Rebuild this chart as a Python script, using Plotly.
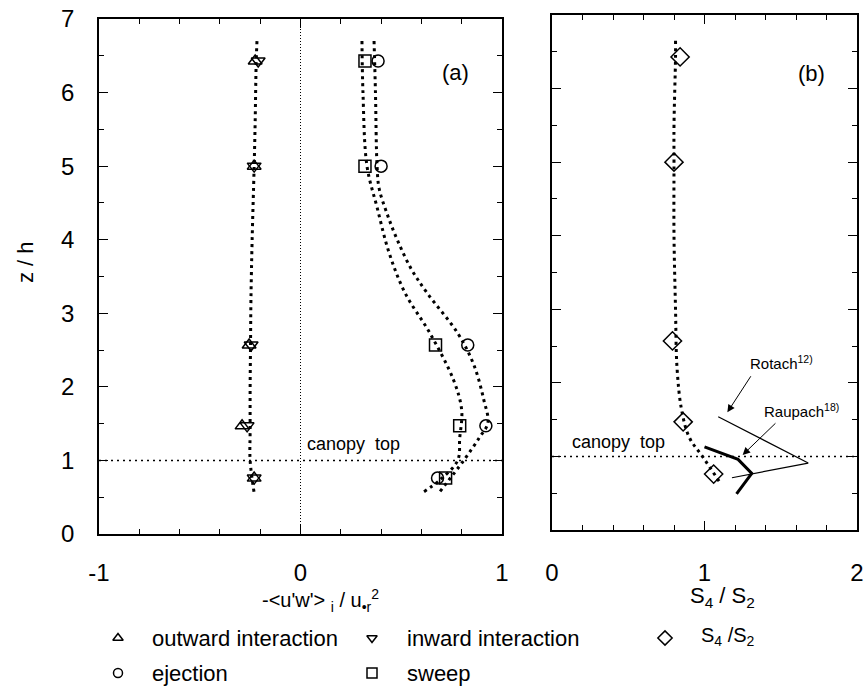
import plotly.graph_objects as go

# ---------------- data ----------------
Z_PTS = [6.43, 5.0, 2.57, 1.47, 0.76]
outward = [-0.225, -0.23, -0.255, -0.29, -0.23]
inward = [-0.21, -0.23, -0.245, -0.265, -0.23]
ejection = [0.385, 0.40, 0.83, 0.92, 0.68]
sweep = [0.32, 0.32, 0.67, 0.79, 0.72]
s4s2 = [0.84, 0.80, 0.79, 0.86, 1.06]

# fitted dotted curves
oi_curve_x = [-0.216, -0.22, -0.225, -0.23, -0.24, -0.246, -0.248, -0.25, -0.25, -0.25, -0.23]
oi_curve_z = [6.7, 6.4, 5.6, 5.0, 4.0, 3.18, 2.57, 2.0, 1.41, 1.0, 0.56]
ej_curve_x = [0.365, 0.372, 0.38, 0.39, 0.43, 0.48, 0.55, 0.63, 0.78, 0.86, 0.91, 0.93, 0.89, 0.81, 0.69]
ej_curve_z = [6.7, 6.0, 5.0, 4.7, 4.35, 4.0, 3.6, 3.27, 2.73, 2.3, 1.82, 1.51, 1.32, 1.0, 0.57]
sw_curve_x = [0.305, 0.31, 0.33, 0.38, 0.44, 0.52, 0.64, 0.76, 0.80, 0.79, 0.78, 0.69, 0.61]
sw_curve_z = [6.7, 6.0, 5.0, 4.44, 3.82, 3.27, 2.74, 2.09, 1.68, 1.3, 1.0, 0.73, 0.57]
s4_curve_x = [0.81, 0.81, 0.80, 0.80, 0.80, 0.81, 0.82, 0.85, 0.90, 0.99, 1.10]
s4_curve_z = [6.65, 6.43, 5.5, 5.0, 4.0, 3.0, 2.2, 1.63, 1.26, 0.99, 0.65]

rotach_x = [1.09, 1.68, 1.18]
rotach_z = [1.54, 0.91, 0.71]
raupach_x = [1.00, 1.22, 1.31, 1.21]
raupach_z = [1.13, 0.96, 0.77, 0.49]

CANOPY = 1.0
YTICKS = [0, 1, 2, 3, 4, 5, 6, 7]

FONT = "Liberation Sans, Arial, Helvetica, sans-serif"
W, H = 867, 686


def px(x):
    return x / W


def py(y):
    return 1 - y / H


fig = go.Figure()

DOT = dict(color="black", width=3, dash="3px,4px")
MK = dict(color="black", size=12, line=dict(color="black", width=1.5))

# ---- panel (a) ----
fig.add_trace(go.Scatter(x=[0, 0], y=[0, 7], mode="lines",
                         line=dict(color="black", width=1, dash="1px,2px"),
                         xaxis="x", yaxis="y", showlegend=False))
fig.add_trace(go.Scatter(x=[-1, 1], y=[CANOPY, CANOPY], mode="lines",
                         line=dict(color="black", width=1.5, dash="2px,4px"),
                         xaxis="x", yaxis="y", showlegend=False))
for cx, cz in [(oi_curve_x, oi_curve_z), (ej_curve_x, ej_curve_z), (sw_curve_x, sw_curve_z)]:
    fig.add_trace(go.Scatter(x=cx, y=cz, mode="lines", line=dict(DOT, shape="spline"),
                             xaxis="x", yaxis="y", showlegend=False))
for vals, sym in [(outward, "triangle-up-open"), (inward, "triangle-down-open"),
                  (ejection, "circle-open"), (sweep, "square-open")]:
    fig.add_trace(go.Scatter(x=vals, y=Z_PTS, mode="markers",
                             marker=dict(MK, symbol=sym),
                             xaxis="x", yaxis="y", showlegend=False, cliponaxis=False))

# ---- panel (b) ----
fig.add_trace(go.Scatter(x=[0, 2], y=[CANOPY, CANOPY], mode="lines",
                         line=dict(color="black", width=1.5, dash="2px,4px"),
                         xaxis="x2", yaxis="y2", showlegend=False))
fig.add_trace(go.Scatter(x=s4_curve_x, y=s4_curve_z, mode="lines", line=dict(DOT, shape="spline"),
                         xaxis="x2", yaxis="y2", showlegend=False))
fig.add_trace(go.Scatter(x=rotach_x, y=rotach_z, mode="lines",
                         line=dict(color="black", width=1.2),
                         xaxis="x2", yaxis="y2", showlegend=False))
fig.add_trace(go.Scatter(x=raupach_x, y=raupach_z, mode="lines",
                         line=dict(color="black", width=3),
                         xaxis="x2", yaxis="y2", showlegend=False))
fig.add_trace(go.Scatter(x=s4s2, y=Z_PTS, mode="markers",
                         marker=dict(MK, symbol="diamond-open", size=14),
                         xaxis="x2", yaxis="y2", showlegend=False, cliponaxis=False))

# ---- legend (manual, on a hidden pixel axis) ----
leg_sym = ["triangle-up-open", "triangle-down-open", "diamond-open", "circle-open", "square-open"]
leg_txt = ["outward interaction", "inward interaction", "S<sub>4</sub> /S<sub>2</sub>",
           "ejection", "sweep"]
leg_px = [118, 372, 665, 118, 372]
leg_py = [638, 638, 638, 673, 673]
leg_size = [9, 9, 11, 9, 10]
for s, xx, yy, sz in zip(leg_sym, leg_px, leg_py, leg_size):
    fig.add_trace(go.Scatter(x=[xx], y=[yy], mode="markers",
                             marker=dict(symbol=s, size=sz, color="black",
                                         line=dict(color="black", width=1.5)),
                             xaxis="x3", yaxis="y3", showlegend=False, cliponaxis=False))

ann = []
leg_tx = [150, 405, 699, 150, 405]
leg_ty = [638, 638, 636, 673, 673]
for t, xx, yy in zip(leg_txt, leg_tx, leg_ty):
    ann.append(dict(x=px(xx), y=py(yy), xref="paper", yref="paper", text=t,
                    showarrow=False, xanchor="left", yanchor="middle",
                    font=dict(size=22 if "S<sub>" not in t else 20, family=FONT, color="black")))

# axis titles
ann.append(dict(x=px(320), y=py(600), xref="paper", yref="paper",
                text="-&lt;u'w'&gt; <sub>i</sub> / u<sub>•r</sub><sup>2</sup>",
                showarrow=False, xanchor="center", yanchor="middle",
                font=dict(size=20, family=FONT, color="black")))
ann.append(dict(x=px(722), y=py(597), xref="paper", yref="paper",
                text="S<sub>4</sub> / S<sub>2</sub>",
                showarrow=False, xanchor="center", yanchor="middle",
                font=dict(size=22, family=FONT, color="black")))
ann.append(dict(x=px(25), y=py(262), xref="paper", yref="paper", text="z / h",
                textangle=-90, showarrow=False, xanchor="center", yanchor="middle",
                font=dict(size=22, family=FONT, color="black")))

# panel labels
ann.append(dict(x=0.77, y=6.27, xref="x", yref="y", text="(a)", showarrow=False,
                font=dict(size=22, family=FONT, color="black")))
ann.append(dict(x=1.70, y=6.2, xref="x2", yref="y2", text="(b)", showarrow=False,
                font=dict(size=22, family=FONT, color="black")))
ann.append(dict(x=0.02, y=1.22, xref="x", yref="y", text="canopy\u00a0 top", showarrow=False,
                xanchor="left", yanchor="middle", font=dict(size=18, family=FONT, color="black")))
ann.append(dict(x=0.12, y=1.2, xref="x2", yref="y2", text="canopy\u00a0 top", showarrow=False,
                xanchor="left", yanchor="middle", font=dict(size=18, family=FONT, color="black")))
ann.append(dict(x=1.285, y=2.27, xref="x2", yref="y2", text="Rotach<sup>12)</sup>", showarrow=False,
                xanchor="left", yanchor="middle", font=dict(size=15, family=FONT, color="black")))
ann.append(dict(x=1.377, y=1.63, xref="x2", yref="y2", text="Raupach<sup>18)</sup>", showarrow=False,
                xanchor="left", yanchor="middle", font=dict(size=15, family=FONT, color="black")))
# arrows
ann.append(dict(x=1.15, y=1.60, ax=1.31, ay=2.11, xref="x2", yref="y2", axref="x2", ayref="y2",
                text="", showarrow=True, arrowhead=2, arrowsize=1.5, arrowwidth=1, arrowcolor="black"))
ann.append(dict(x=1.25, y=1.02, ax=1.475, ay=1.47, xref="x2", yref="y2", axref="x2", ayref="y2",
                text="", showarrow=True, arrowhead=2, arrowsize=1.5, arrowwidth=1, arrowcolor="black"))

common = dict(showline=True, linecolor="black", linewidth=1.5, mirror="ticks",
              ticks="inside", ticklen=9, tickwidth=1.3, tickcolor="black",
              showgrid=False, zeroline=False, automargin=False,
              tickfont=dict(size=24, family=FONT, color="black"))

fig.update_layout(
    width=W, height=H,
    margin=dict(l=0, r=0, t=0, b=0, autoexpand=False),
    paper_bgcolor="white", plot_bgcolor="rgba(0,0,0,0)",
    showlegend=False,
    xaxis=dict(common, domain=[px(99), px(502)], range=[-1, 1], tickvals=[-1, 0, 1],
               ticktext=["-1", "0", "1"], ticklabelstandoff=16,
               minor=dict(ticks="inside", ticklen=5, dtick=0.2, tick0=0, tickcolor="black", showgrid=False),
               anchor="y"),
    yaxis=dict(common, domain=[py(534), py(19)], range=[0, 7], tickvals=YTICKS,
               ticklabelstandoff=18,
               minor=dict(ticks="inside", ticklen=5, dtick=0.5, tick0=0, tickcolor="black", showgrid=False),
               anchor="x"),
    xaxis2=dict(common, domain=[px(552), px(857)], range=[0, 2], tickvals=[0, 1, 2],
                ticklabelstandoff=20,
                minor=dict(ticks="inside", ticklen=5, dtick=0.2, tick0=0, tickcolor="black", showgrid=False),
                anchor="y2"),
    yaxis2=dict(common, domain=[py(530), py(15)], range=[0, 7], tickvals=YTICKS,
                showticklabels=False,
                minor=dict(ticks="inside", ticklen=5, dtick=0.5, tick0=0, tickcolor="black", showgrid=False),
                anchor="x2"),
    xaxis3=dict(domain=[0, 1], range=[0, W], visible=False, fixedrange=True, anchor="y3", automargin=False),
    yaxis3=dict(domain=[0, 0.2], range=[H, H - 0.2 * H], visible=False, fixedrange=True, anchor="x3",
                automargin=False),
    annotations=ann,
)

fig.write_html("out.html")
